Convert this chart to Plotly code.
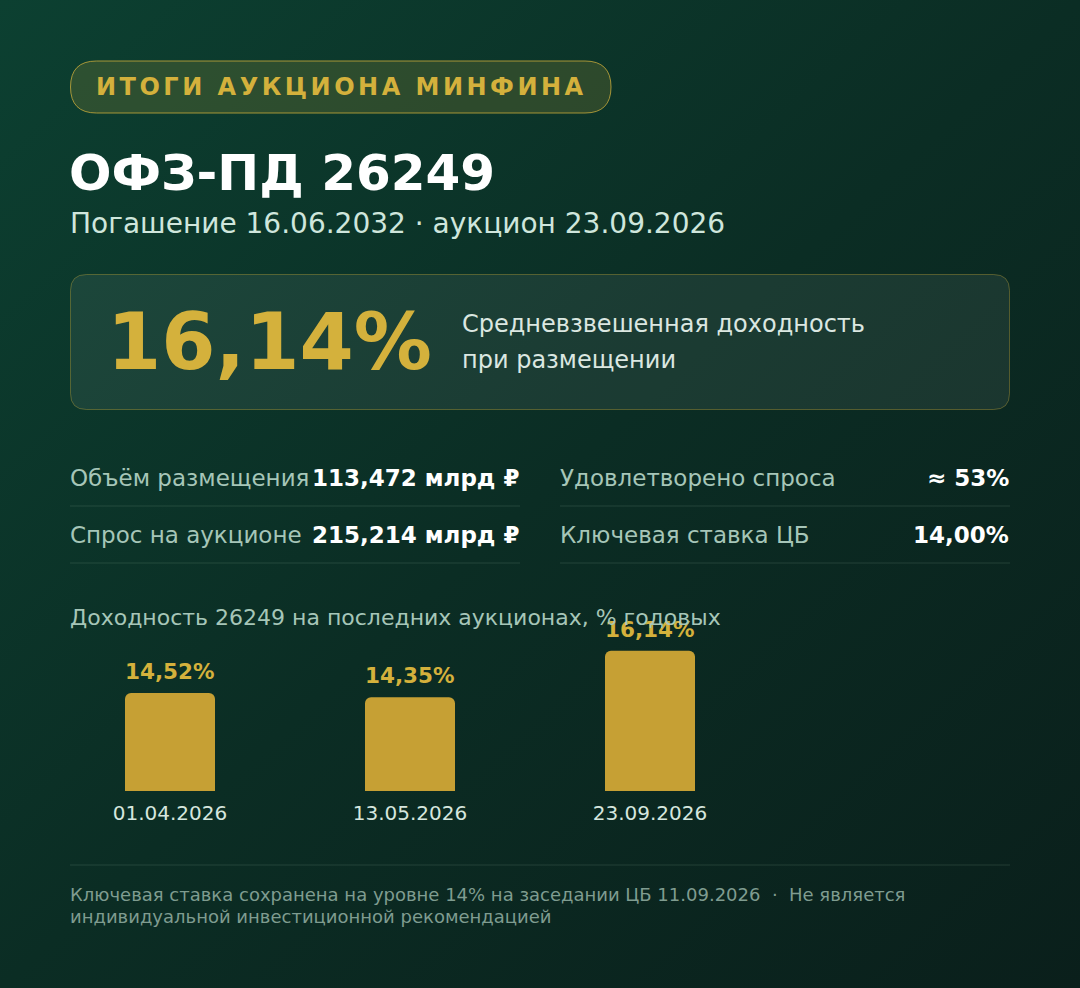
import base64
import plotly.graph_objects as go

# --- data ---
auction_dates = ["01.04.2026", "13.05.2026", "23.09.2026"]
auction_yields = [14.52, 14.35, 16.14]

stat_labels_left = ["Объём размещения", "Спрос на аукционе"]
stat_values_left = ["113,472 млрд ₽", "215,214 млрд ₽"]
stat_labels_right = ["Удовлетворено спроса", "Ключевая ставка ЦБ"]
stat_values_right = ["≈ 53%", "14,00%"]

badge_text = "ИТОГИ АУКЦИОНА МИНФИНА"
title_text = "ОФЗ-ПД 26249"
subtitle_text = "Погашение 16.06.2032 · аукцион 23.09.2026"
headline_yield = "16,14%"
headline_caption = ["Средневзвешенная доходность", "при размещении"]
chart_title = "Доходность 26249 на последних аукционах, % годовых"
footer_lines = [
    "Ключевая ставка сохранена на уровне 14% на заседании ЦБ 11.09.2026  ·  Не является",
    "индивидуальной инвестиционной рекомендацией",
]

W, H = 1080, 988
FONT = "DejaVu Sans"
GOLD = "#d4b13c"
MUTED = "#a6c6b8"


def px(x):
    return x / W


def py(y):
    return 1 - y / H


def label(x, y, text, size, color, xanchor="left"):
    # text placed by pixel position, vertically centred
    return dict(x=px(x), y=py(y), xref="paper", yref="paper",
                xanchor=xanchor, yanchor="middle", text=text, showarrow=False,
                font=dict(family=FONT, size=size, color=color))


def rounded(x0, y0, x1, y1, r):
    return (f"M {px(x0 + r)},{py(y0)} L {px(x1 - r)},{py(y0)} "
            f"Q {px(x1)},{py(y0)} {px(x1)},{py(y0 + r)} L {px(x1)},{py(y1 - r)} "
            f"Q {px(x1)},{py(y1)} {px(x1 - r)},{py(y1)} L {px(x0 + r)},{py(y1)} "
            f"Q {px(x0)},{py(y1)} {px(x0)},{py(y1 - r)} L {px(x0)},{py(y0 + r)} "
            f"Q {px(x0)},{py(y0)} {px(x0 + r)},{py(y0)} Z")


# background gradient as an svg image
bg_svg = f"""<svg xmlns='http://www.w3.org/2000/svg' width='{W}' height='{H}'>
<defs><linearGradient id='g' x1='0' y1='0' x2='1' y2='1'>
<stop offset='0' stop-color='#0c4031'/><stop offset='0.5' stop-color='#0b2d24'/>
<stop offset='1' stop-color='#0a1f1b'/></linearGradient></defs>
<rect width='{W}' height='{H}' fill='url(#g)'/>
</svg>"""
bg_uri = "data:image/svg+xml;base64," + base64.b64encode(bg_svg.encode()).decode()

fig = go.Figure()

fig.add_trace(go.Bar(
    x=list(range(len(auction_yields))),
    y=auction_yields,
    width=0.375,
    marker=dict(color="#c6a034", cornerradius=6, line=dict(width=0)),
    hoverinfo="skip",
))

annotations = []

# bar value labels
for i, v in enumerate(auction_yields):
    annotations.append(dict(
        x=i, y=v, xref="x", yref="y", xanchor="center", yanchor="bottom", yshift=7,
        text="<b>" + f"{v:.2f}".replace(".", ",") + "%</b>",
        showarrow=False, font=dict(family=FONT, size=21.5, color=GOLD),
    ))

# header
annotations.append(label(341, 87, f"<span style='letter-spacing:3.5px'><b>{badge_text}</b></span>",
                         24, GOLD, xanchor="center"))
annotations.append(label(67, 173, f"<b>{title_text}</b>", 50, "#ffffff"))
annotations.append(label(68, 223, subtitle_text, 28, "#cfe6dc"))

# headline card
annotations.append(label(105, 342, f"<b>{headline_yield}</b>", 78, GOLD))
for k, line in enumerate(headline_caption):
    annotations.append(label(460, 324 + 36 * k, line, 24, "#dbe7e1"))

# stats
for k in range(2):
    yy = 478 + 57 * k
    annotations += [
        label(68, yy, stat_labels_left[k], 23, MUTED),
        label(521, yy, f"<b>{stat_values_left[k]}</b>", 23, "#ffffff", xanchor="right"),
        label(558, yy, stat_labels_right[k], 23, MUTED),
        label(1011, yy, f"<b>{stat_values_right[k]}</b>", 23, "#ffffff", xanchor="right"),
    ]

# chart title
annotations.append(label(68, 617, chart_title, 22, MUTED))

# footer
for k, line in enumerate(footer_lines):
    annotations.append(label(68, 894 + 22 * k, line, 18, "#7f9c90"))

shapes = [
    dict(type="path", xref="paper", yref="paper", path=rounded(70.5, 61, 611, 113, 26),
         fillcolor="rgba(212,177,60,0.17)", line=dict(color="rgba(212,177,60,0.75)", width=1),
         layer="below"),
    dict(type="path", xref="paper", yref="paper", path=rounded(70.5, 274.5, 1009.5, 409.5, 16),
         fillcolor="rgba(255,255,255,0.065)", line=dict(color="rgba(212,177,60,0.35)", width=1),
         layer="below"),
]
# divider lines
for yline in (506, 563):
    for x0, x1 in ((70, 520), (560, 1010)):
        shapes.append(dict(type="line", xref="paper", yref="paper",
                           x0=px(x0), x1=px(x1), y0=py(yline), y1=py(yline),
                           line=dict(color="rgba(160,200,180,0.16)", width=1)))
shapes.append(dict(type="line", xref="paper", yref="paper",
                   x0=px(70), x1=px(1010), y0=py(865), y1=py(865),
                   line=dict(color="rgba(160,200,180,0.16)", width=1)))

# bar axis scale: 240 px per category, ~26 px per percentage point
fig.update_layout(
    width=W, height=H,
    margin=dict(l=0, r=0, t=0, b=0),
    paper_bgcolor="#0b2c23",
    plot_bgcolor="rgba(0,0,0,0)",
    showlegend=False,
    images=[dict(source=bg_uri, xref="paper", yref="paper", x=0, y=1,
                 sizex=1, sizey=1, sizing="stretch", layer="below")],
    shapes=shapes,
    annotations=annotations,
    xaxis=dict(domain=[px(70), px(1010)], range=[-100 / 240, 840 / 240],
               tickvals=list(range(len(auction_dates))), ticktext=auction_dates,
               showgrid=False, zeroline=False, showline=False, ticks="",
               ticklabelstandoff=8,
               tickfont=dict(family=FONT, size=20, color="#d6e6de"), fixedrange=True),
    yaxis=dict(domain=[py(791), py(631)], range=[10.742, 10.742 + 160 / 25.97],
               visible=False, fixedrange=True),
)

fig.write_html("out.html", config={"displayModeBar": False},
               post_script="document.body.style.margin='0';")
